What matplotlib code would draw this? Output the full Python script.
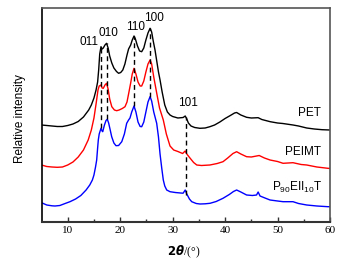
import matplotlib
matplotlib.use("Agg")
import matplotlib.pyplot as plt

# 2theta (deg) and relative intensity (arbitrary units, offset per series)
pet_x = [5, 6, 7, 8, 9, 10, 11, 12, 13, 14, 14.5, 15, 15.4, 15.7, 15.9, 16.1, 16.34, 16.55,
         16.78, 17.1, 17.4, 17.7, 18.0, 18.4, 18.8, 19.3, 19.7, 20.1, 20.5, 20.9, 21.3, 21.6,
         22.0, 22.3, 22.64, 22.9, 23.3, 23.7, 24.1, 24.5, 24.9, 25.3, 25.7, 26.0, 26.3, 26.64,
         27.0, 27.3, 27.6, 28.0, 28.5, 29.0, 29.5, 30.0, 31.0, 32.0, 32.4, 32.7, 33.0, 33.5,
         34.2, 35.2, 36.2, 37.1, 38, 39, 40, 41, 41.8, 42.2, 43, 44.1, 45, 46.3, 47, 48.6, 50,
         51, 52.95, 54, 55.56, 57, 58.5, 60]
pet_y = [97, 96.5, 96, 95.5, 95.5, 96.5, 98, 100.5, 105, 112, 117, 124, 132, 140, 152, 168,
         175.3, 173, 174, 177, 178.7, 174, 166, 159, 154, 150.5, 148.7, 149.5, 152, 158, 167,
         173, 177, 182, 186, 183, 176, 171, 170.3, 174, 182, 189, 193.7, 190, 181, 172, 160,
         150, 142, 130, 117, 110, 107, 105.5, 104, 104.5, 106, 103, 99, 96, 94.5, 93.7, 94,
         95.3, 97, 100, 103.5, 106.5, 109, 109.5, 107, 104.7, 104, 104.3, 102.5, 100.3, 99,
         98.5, 97, 96, 94, 93, 92.3, 92]

peimt_x = [5, 6, 7, 8, 9, 10, 11, 12, 13, 13.9, 14.5, 15.0, 15.4, 15.77, 16.0, 16.34, 16.55,
           16.78, 17.1, 17.4, 17.7, 18.0, 18.4, 18.9, 19.34, 19.8, 20.4, 20.92, 21.3, 21.6,
           22.0, 22.3, 22.64, 23.0, 23.4, 23.8, 24.1, 24.5, 24.9, 25.3, 25.7, 26.0, 26.4, 26.96,
           27.5, 28.22, 28.8, 29.5, 30.2, 31.0, 31.9, 32.4, 32.7, 33.3, 34.0, 34.6, 35.5, 37.1,
           38.5, 39.6, 40.5, 41.5, 42.2, 43, 44.1, 45, 46.0, 46.5, 47.5, 48.57, 50, 51.05,
           52.95, 54.5, 55.56, 57.5, 59.6, 60]
peimt_y = [57, 55.5, 55, 54.7, 55, 57, 60, 65, 72, 82, 92, 104, 118, 132, 136, 137, 134,
           133.7, 137, 138.7, 133, 123, 115.3, 112, 111.3, 112, 113.5, 115.3, 120, 128, 139,
           148, 153.7, 148, 140, 136, 136, 141, 150, 158, 162, 158, 145, 129, 114, 102, 88,
           76, 72, 70.5, 68.5, 71, 68, 64, 59.5, 57, 56.5, 57, 58.5, 60.3, 64, 68.5, 70.3, 68,
           65.3, 65, 66, 66.5, 64, 62, 60.5, 58.7, 59.3, 57.5, 57, 55, 53.7, 53.5]

peiit_x = [5, 6, 7, 7.57, 8.5, 9.5, 10.43, 11.5, 12.5, 13.5, 14.2, 14.7, 15.0, 15.3, 15.52,
           15.7, 15.83, 16.0, 16.34, 16.55, 16.67, 17.0, 17.3, 17.55, 17.8, 18.1, 18.38, 18.8,
           19.2, 19.7, 20.3, 20.8, 21.24, 21.6, 21.87, 22.2, 22.64, 23.0, 23.4, 23.8, 24.1,
           24.5, 24.9, 25.3, 25.7, 26.0, 26.4, 26.96, 27.3, 27.6, 27.92, 28.22, 28.5, 28.87,
           29.5, 30.5, 31.5, 32.0, 32.4, 32.7, 33.2, 33.64, 34.5, 35.22, 36.2, 37.13, 38.3,
           39.6, 40.8, 41.6, 42.2, 43, 44.1, 45.2, 46.0, 46.3, 46.66, 47.6, 48.57, 50, 51.05,
           52.95, 54, 55.56, 57.5, 59.6, 60]
peiit_y = [19.3, 17, 16.2, 16, 16.5, 18.5, 20.3, 23, 26.5, 32, 37, 42, 47, 55, 62, 74, 82,
           88, 93.7, 91, 90.3, 97, 101.5, 102.7, 99, 92, 85.3, 79, 76.3, 76.5, 80.3, 88, 98.7,
           102, 104, 110, 116, 110, 100, 95.5, 95.3, 100, 110, 120, 125.3, 121, 110, 98.7, 85,
           68, 54, 42, 36, 32, 30.3, 29.5, 29, 28.8, 32, 28, 23, 20.3, 18.5, 18, 18.2, 18.7,
           20.5, 23.7, 27.5, 30.5, 32, 30, 27, 26.5, 27, 30, 26, 24, 22, 21, 20.3, 20.3, 18.5,
           17, 16, 15.3, 15.3]

# reflection labels: name, position, dashed line top/bottom
refl_names = ["011", "010", "110", "100", "101"]
refl_pos = [16.3, 17.4, 22.6, 25.7, 32.5]
refl_top = [175, 179, 186, 194, 105]
refl_bot = [94, 103, 116, 125, 27]
refl_lab_x = [14.0, 17.7, 23.0, 26.45, 32.9]
refl_lab_y = [180, 189, 195, 204, 119]

W, H = 357, 261
fig = plt.figure(figsize=(W / 100, H / 100), dpi=100)
ax = fig.add_axes([41.5 / W, (H - 222) / H, (330 - 41.5) / W, (222 - 8.5) / H])

ax.plot(pet_x, pet_y, color="black", lw=1.0)
ax.plot(peimt_x, peimt_y, color="red", lw=1.0)
ax.plot(peiit_x, peiit_y, color="blue", lw=1.0)

for p, t, b in zip(refl_pos, refl_top, refl_bot):
    ax.plot([p, p], [b, t], color="black", lw=1.0, ls=(0, (3.5, 2.5)))

for n, x, y in zip(refl_names, refl_lab_x, refl_lab_y):
    ax.text(x, y, n, ha="center", va="center", fontsize=8.5, family="Liberation Sans")

ax.text(56.1, 109, "PET", ha="center", va="center", fontsize=8.5, family="Liberation Sans")
ax.text(54.8, 70, "PEIMT", ha="center", va="center", fontsize=8.5, family="Liberation Sans")
ax.text(53.8, 35, r"P$_{\mathregular{90}}$EII$_{\mathregular{10}}$T", ha="center", va="center",
        fontsize=8.5, family="Liberation Sans")

ax.set_xlim(5, 60)
ax.set_ylim(0, 213.5)
ax.set_xticks([10, 20, 30, 40, 50, 60])
ax.set_xticks([15, 25, 35, 45, 55], minor=True)
ax.set_yticks([])
ax.tick_params(axis="x", which="major", direction="in", length=3.5, width=1.0, color="#333333",
               labelsize=8, pad=3)
ax.tick_params(axis="x", which="minor", direction="in", length=2, width=1.0, color="#333333")
for lab in ax.get_xticklabels():
    lab.set_family("Liberation Serif")

ax.spines["left"].set_color("black")
ax.spines["left"].set_linewidth(1.2)
ax.spines["bottom"].set_color("#333333")
ax.spines["bottom"].set_linewidth(1.5)
for s in ["top", "right"]:
    ax.spines[s].set_color("#555555")
    ax.spines[s].set_linewidth(1.2)

fig.text(184 / W, 1 - 252 / H, r"$\mathbf{2}\boldsymbol{\theta}$/(°)", ha="center", va="center",
         fontsize=8.5, family="Liberation Serif")
fig.text(20 / W, 1 - 118.5 / H, "Relative intensity", rotation=90, ha="center", va="center",
         fontsize=8.5, family="Liberation Sans")

fig.savefig("out.png", dpi=100)
